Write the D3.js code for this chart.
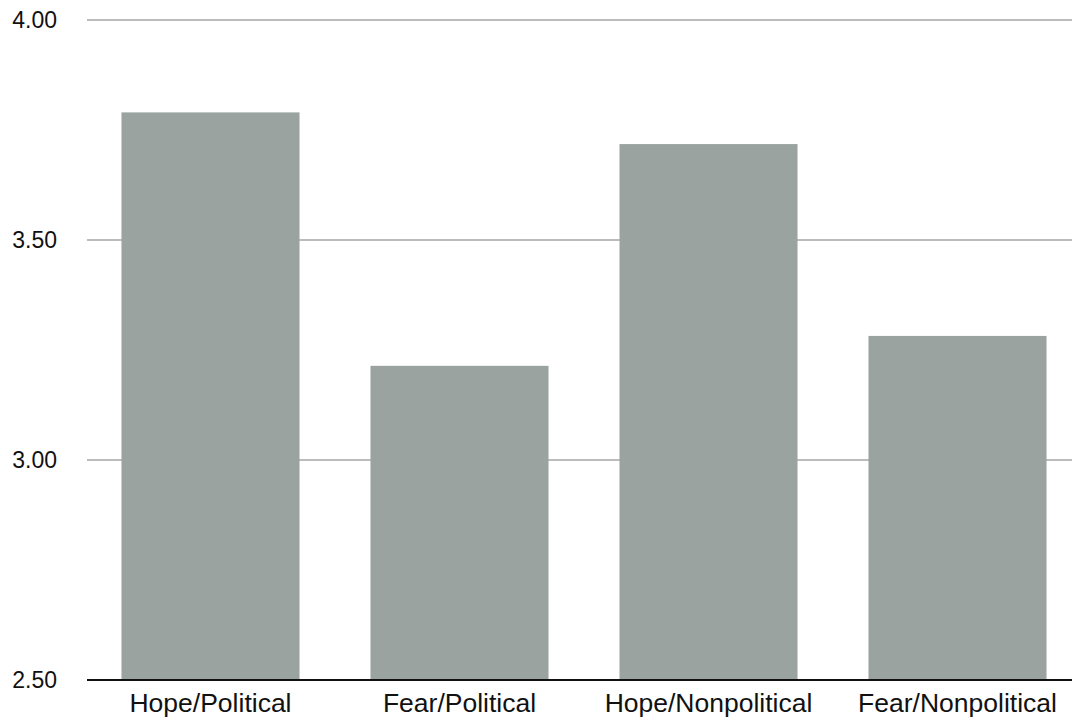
<!DOCTYPE html>
<html>
<head>
<meta charset="utf-8">
<script src="https://cdn.jsdelivr.net/npm/d3@7"></script>
<style>
  html, body { margin: 0; padding: 0; background: #fff; }
  svg { display: block; }
  text { font-family: "Liberation Sans", Arial, Helvetica, sans-serif; fill: #111; }
</style>
</head>
<body>
<script>
// Mean ratings by ad appeal and topic
const categories = ["Hope/Political", "Fear/Political", "Hope/Nonpolitical", "Fear/Nonpolitical"];
const values = [3.79, 3.214, 3.718, 3.282];
const yTicks = [2.5, 3.0, 3.5, 4.0];

const width = 1073, height = 718;
const plotLeft = 87, plotRight = 1072, plotTop = 20, plotBottom = 680;

const svg = d3.select("body").append("svg")
  .attr("width", width)
  .attr("height", height);

const x = d3.scaleBand()
  .domain(categories)
  .range([86, 1082])
  .paddingInner(0.285)
  .paddingOuter(0.1425);

const y = d3.scaleLinear()
  .domain([2.5, 4.0])
  .range([plotBottom, plotTop]);

// horizontal gridlines
svg.append("g")
  .selectAll("line")
  .data(yTicks.filter(t => t > 2.5))
  .join("line")
  .attr("x1", plotLeft)
  .attr("x2", plotRight)
  .attr("y1", d => y(d))
  .attr("y2", d => y(d))
  .attr("stroke", "#bcbcbc")
  .attr("stroke-width", 2.2);

// bars
svg.append("g")
  .selectAll("rect")
  .data(categories.map((c, i) => ({ c, v: values[i] })))
  .join("rect")
  .attr("x", d => x(d.c))
  .attr("width", x.bandwidth())
  .attr("y", d => y(d.v))
  .attr("height", d => y(2.5) - y(d.v))
  .attr("fill", "#9aa3a0");

// baseline
svg.append("line")
  .attr("x1", plotLeft)
  .attr("x2", plotRight)
  .attr("y1", y(2.5))
  .attr("y2", y(2.5))
  .attr("stroke", "#111")
  .attr("stroke-width", 2);

// y tick labels
svg.append("g")
  .selectAll("text")
  .data(yTicks)
  .join("text")
  .attr("x", 57)
  .attr("y", d => y(d))
  .attr("dy", "0.34em")
  .attr("text-anchor", "end")
  .style("font-size", "23px")
  .text(d => d3.format(".2f")(d));

// category labels
svg.append("g")
  .selectAll("text")
  .data(categories)
  .join("text")
  .attr("x", d => x(d) + x.bandwidth() / 2)
  .attr("y", 712)
  .attr("text-anchor", "middle")
  .style("font-size", "26.5px")
  .text(d => d);
</script>
</body>
</html>
